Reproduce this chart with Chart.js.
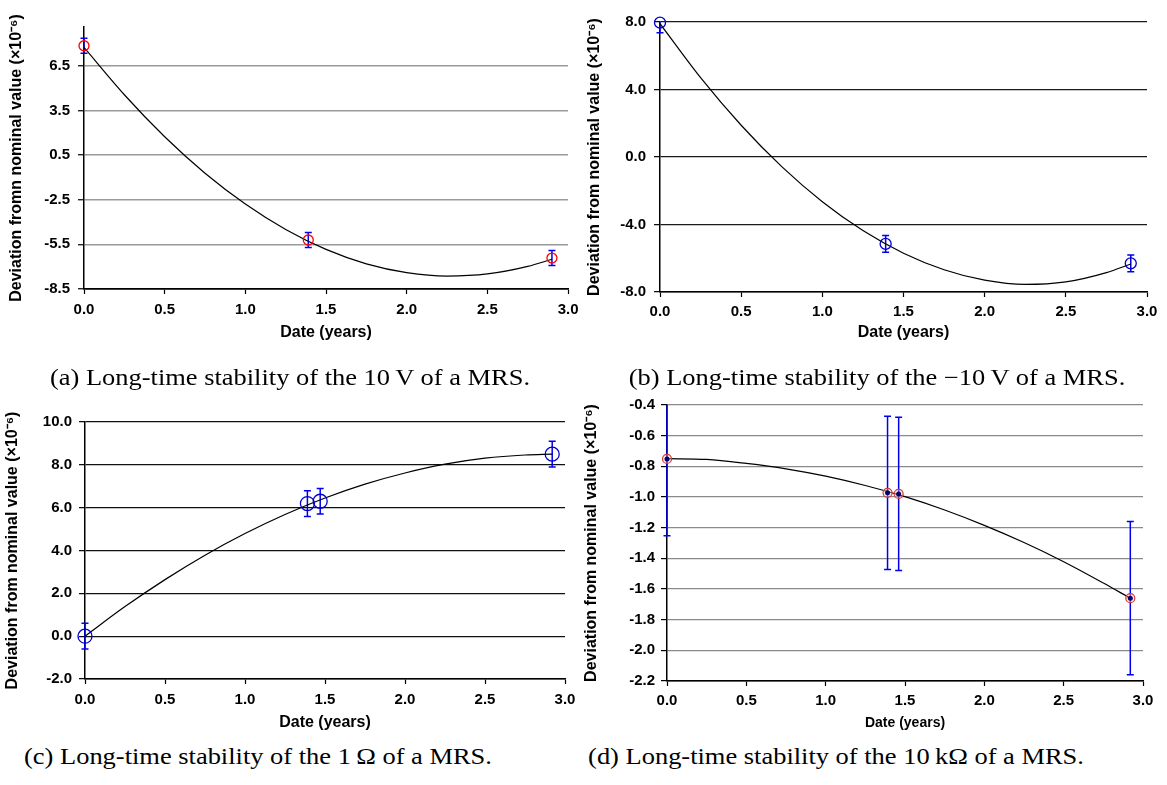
<!DOCTYPE html>
<html>
<head>
<meta charset="utf-8">
<title>Long-time stability of a MRS</title>
<script src="https://cdn.jsdelivr.net/npm/chart.js@4.4.1/dist/chart.umd.min.js"></script>
<style>
  body { margin: 0; background: #fff; }
  #page { position: relative; width: 1167px; height: 785px; overflow: hidden; }
  canvas { position: absolute; }
  .caption {
    position: absolute; width: 600px; text-align: center;
    font-family: "Liberation Serif", "Times New Roman", serif; font-size: 23px;
    line-height: 28px; color: #000; white-space: nowrap;
    transform: scaleX(1.15); transform-origin: center;
  }
</style>
</head>
<body>
<div id="page">
  <canvas id="chartA" width="585" height="345" style="left:0;top:0"></canvas>
  <canvas id="chartB" width="587" height="345" style="left:580px;top:0"></canvas>
  <canvas id="chartC" width="590" height="345" style="left:0;top:390px"></canvas>
  <canvas id="chartD" width="587" height="345" style="left:580px;top:390px"></canvas>
  <div class="caption" style="left:-10px;top:364px">(a) Long-time stability of the 10&#8201;V of a MRS.</div>
  <div class="caption" style="left:577px;top:364px">(b) Long-time stability of the &#8722;10&#8201;V of a MRS.</div>
  <div class="caption" style="left:-42px;top:743px">(c) Long-time stability of the 1&#8201;&Omega; of a MRS.</div>
  <div class="caption" style="left:536px;top:743px">(d) Long-time stability of the 10&#8201;k&Omega; of a MRS.</div>
</div>
<script>
// x axis is the same for all four plots
var xTicks = [0, 0.5, 1, 1.5, 2, 2.5, 3];

// (a) 10 V
var datesA = [0, 1.39, 2.9];
var valuesA = [7.84, -5.21, -6.42];
var errorsA = [0.5, 0.5, 0.5];
var fitXA = [0, 0.25, 0.5, 0.75, 1, 1.25, 1.5, 1.75, 2, 2.25, 2.5, 2.75, 2.9];
var fitYA = [7.73, 4.55, 1.73, -0.72, -2.79, -4.50, -5.84, -6.81, -7.40, -7.63, -7.49, -6.98, -6.50];
var yTicksA = [-8.5, -5.5, -2.5, 0.5, 3.5, 6.5];

// (b) -10 V
var datesB = [0, 1.39, 2.9];
var valuesB = [7.96, -5.15, -6.30];
var errorsB = [0.6, 0.5, 0.5];
var fitXB = [0, 0.25, 0.5, 0.75, 1, 1.25, 1.5, 1.75, 2, 2.25, 2.5, 2.75, 2.9];
var fitYB = [7.9, 4.70, 1.88, -0.57, -2.65, -4.36, -5.70, -6.68, -7.30, -7.55, -7.40, -6.85, -6.34];
var yTicksB = [-8, -4, 0, 4, 8];

// (c) 1 ohm
var datesC = [0, 1.39, 1.47, 2.92];
var valuesC = [0, 6.19, 6.3, 8.5];
var errorsC = [0.6, 0.6, 0.6, 0.6];
var fitXC = [0, 0.25, 0.5, 0.75, 1, 1.25, 1.5, 1.75, 2, 2.25, 2.5, 2.75, 2.92];
var fitYC = [0, 1.38, 2.64, 3.78, 4.79, 5.68, 6.45, 7.10, 7.62, 8.03, 8.31, 8.46, 8.50];
var yTicksC = [-2, 0, 2, 4, 6, 8, 10];

// (d) 10 kohm
var datesD = [0, 1.39, 1.46, 2.92];
var valuesD = [-0.752, -0.973, -0.98, -1.66];
var errorsD = [0.5, 0.5, 0.5, 0.5];
var fitXD = [0, 0.25, 0.5, 0.75, 1, 1.25, 1.5, 1.75, 2, 2.25, 2.5, 2.75, 2.92];
var fitYD = [-0.75, -0.755, -0.781, -0.816, -0.864, -0.925, -0.998, -1.085, -1.185, -1.297, -1.422, -1.561, -1.66];
var yTicksD = [-2.2, -2.0, -1.8, -1.6, -1.4, -1.2, -1.0, -0.8, -0.6, -0.4];

Chart.defaults.font.family = "'Liberation Sans', Arial, sans-serif";
Chart.defaults.color = '#000';

function pairs(xs, ys) {
    return xs.map(function (x, i) { return { x: x, y: ys[i] }; });
}

// vertical error bars with caps, drawn under the markers
var errorBars = {
    id: 'errorBars',
    beforeDatasetsDraw: function (chart) {
        var ctx = chart.ctx, area = chart.chartArea;
        var xs = chart.scales.x, ys = chart.scales.y;
        ctx.save();
        ctx.beginPath();
        ctx.rect(area.left - 10, area.top, area.right - area.left + 20, area.bottom - area.top);
        ctx.clip();
        ctx.strokeStyle = '#0000ee';
        ctx.lineWidth = 1.5;
        chart.data.datasets.forEach(function (ds) {
            if (!ds.errors) return;
            ds.data.forEach(function (p, i) {
                var x = xs.getPixelForValue(p.x);
                var y1 = ys.getPixelForValue(p.y + ds.errors[i]);
                var y2 = ys.getPixelForValue(p.y - ds.errors[i]);
                ctx.beginPath();
                ctx.moveTo(x, y1); ctx.lineTo(x, y2);
                ctx.moveTo(x - 3.5, y1); ctx.lineTo(x + 3.5, y1);
                ctx.moveTo(x - 3.5, y2); ctx.lineTo(x + 3.5, y2);
                ctx.stroke();
            });
        });
        ctx.restore();
    }
};

function makeChart(id, o) {
    var datasets = [{
        data: pairs(o.fitX, o.fitY),
        showLine: true,
        borderColor: '#000',
        borderWidth: 1.2,
        pointRadius: 0,
        cubicInterpolationMode: 'monotone',
        order: 3
    }].concat(o.markers);

    return new Chart(document.getElementById(id), {
        type: 'scatter',
        data: { datasets: datasets },
        plugins: [errorBars],
        options: {
            responsive: false,
            animation: false,
            devicePixelRatio: 1,
            layout: { padding: { left: 0, top: o.padTop, right: o.padRight, bottom: 0 } },
            plugins: { legend: { display: false }, tooltip: { enabled: false } },
            scales: {
                x: {
                    type: 'linear',
                    min: 0,
                    max: 3,
                    afterBuildTicks: function (scale) {
                        scale.ticks = xTicks.map(function (v) { return { value: v }; });
                    },
                    afterFit: function (scale) { scale.height = o.xHeight; },
                    ticks: {
                        font: { size: 15, weight: 'bold' },
                        padding: o.xTickPad,
                        maxRotation: 0,
                        callback: function (v) { return v.toFixed(1); }
                    },
                    grid: { drawOnChartArea: false, tickLength: 5, tickColor: '#000', tickWidth: 1.2 },
                    border: { color: '#000', width: 1.5 },
                    title: {
                        display: true,
                        text: 'Date (years)',
                        font: { size: o.xTitleSize, weight: 'bold' },
                        padding: { top: 0, bottom: o.xTitlePad }
                    }
                },
                y: {
                    type: 'linear',
                    min: o.yMin,
                    max: o.yMax,
                    afterBuildTicks: function (scale) {
                        scale.ticks = o.yTicks.map(function (v) { return { value: v }; });
                    },
                    afterFit: function (scale) { scale.width = o.yWidth; },
                    ticks: {
                        font: { size: 15, weight: 'bold' },
                        padding: o.yTickPad,
                        callback: function (v) { return v.toFixed(1); }
                    },
                    grid: {
                        color: function (c) { return c.tick && c.tick.value === o.yMin ? '#000' : o.gridColor; },
                        lineWidth: o.gridWidth,
                        tickLength: 6,
                        tickColor: '#000',
                        tickWidth: 1.2
                    },
                    border: { color: '#000', width: 1.5 },
                    title: {
                        display: true,
                        text: o.yTitle,
                        font: { size: 16, weight: 'bold' },
                        padding: { top: o.yTitlePad, bottom: 0 }
                    }
                }
            }
        }
    });
}

// (a)
makeChart('chartA', {
    fitX: fitXA, fitY: fitYA, yTicks: yTicksA, yMin: -8.5, yMax: 9.1,
    yTitle: 'Deviation fromn nominal value (\u00d710\u207b\u2076)',
    gridColor: '#9a9a9a', gridWidth: 1.5,
    padTop: 27, padRight: 16, xHeight: 56, yWidth: 84,
    xTickPad: 6.5, yTickPad: 8, xTitleSize: 16, xTitlePad: 2.4, yTitlePad: 7.4,
    markers: [{
        data: pairs(datesA, valuesA), errors: errorsA,
        pointRadius: 5, pointBorderWidth: 1.3,
        pointBorderColor: '#ff0000', pointBackgroundColor: 'rgba(0,0,0,0)',
        clip: false, order: 1
    }]
});

// (b)
makeChart('chartB', {
    fitX: fitXB, fitY: fitYB, yTicks: yTicksB, yMin: -8, yMax: 8,
    yTitle: 'Deviation from nominal value (\u00d710\u207b\u2076)',
    gridColor: '#1a1a1a', gridWidth: 1.3,
    padTop: 22, padRight: 20, xHeight: 53, yWidth: 80,
    xTickPad: 5.5, yTickPad: 8, xTitleSize: 16, xTitlePad: 2.4, yTitlePad: 5.4,
    markers: [{
        data: pairs(datesB, valuesB), errors: errorsB,
        pointRadius: 5.5, pointBorderWidth: 1.3,
        pointBorderColor: '#0000cc', pointBackgroundColor: 'rgba(0,0,0,0)',
        clip: false, order: 1
    }]
});

// (c)
makeChart('chartC', {
    fitX: fitXC, fitY: fitYC, yTicks: yTicksC, yMin: -2, yMax: 10,
    yTitle: 'Deviation from nominal value (\u00d710\u207b\u2076)',
    gridColor: '#111111', gridWidth: 1.3,
    padTop: 32, padRight: 25, xHeight: 56, yWidth: 85,
    xTickPad: 6.5, yTickPad: 7, xTitleSize: 16, xTitlePad: 2.4, yTitlePad: 3.4,
    markers: [{
        data: pairs(datesC, valuesC), errors: errorsC,
        pointRadius: 7, pointBorderWidth: 1.3,
        pointBorderColor: '#0000cc', pointBackgroundColor: 'rgba(0,0,0,0)',
        clip: false, order: 1
    }]
});

// (d) red ring with a small navy dot in it
makeChart('chartD', {
    fitX: fitXD, fitY: fitYD, yTicks: yTicksD, yMin: -2.2, yMax: -0.4,
    yTitle: 'Deviation from nominal value (\u00d710\u207b\u2076)',
    gridColor: '#8a8a8a', gridWidth: 1.2,
    padTop: 14, padRight: 24, xHeight: 54, yWidth: 87,
    xTickPad: 5.5, yTickPad: 6, xTitleSize: 14, xTitlePad: 3.6, yTitlePad: 2.4,
    markers: [{
        data: pairs(datesD, valuesD),
        pointRadius: 2.5, pointBorderWidth: 0,
        pointBackgroundColor: '#000066',
        clip: false, order: 0
    }, {
        data: pairs(datesD, valuesD), errors: errorsD,
        pointRadius: 4.5, pointBorderWidth: 1.2,
        pointBorderColor: '#d03a3a', pointBackgroundColor: 'rgba(240,200,200,0.4)',
        clip: false, order: 1
    }]
});
</script>
</body>
</html>
